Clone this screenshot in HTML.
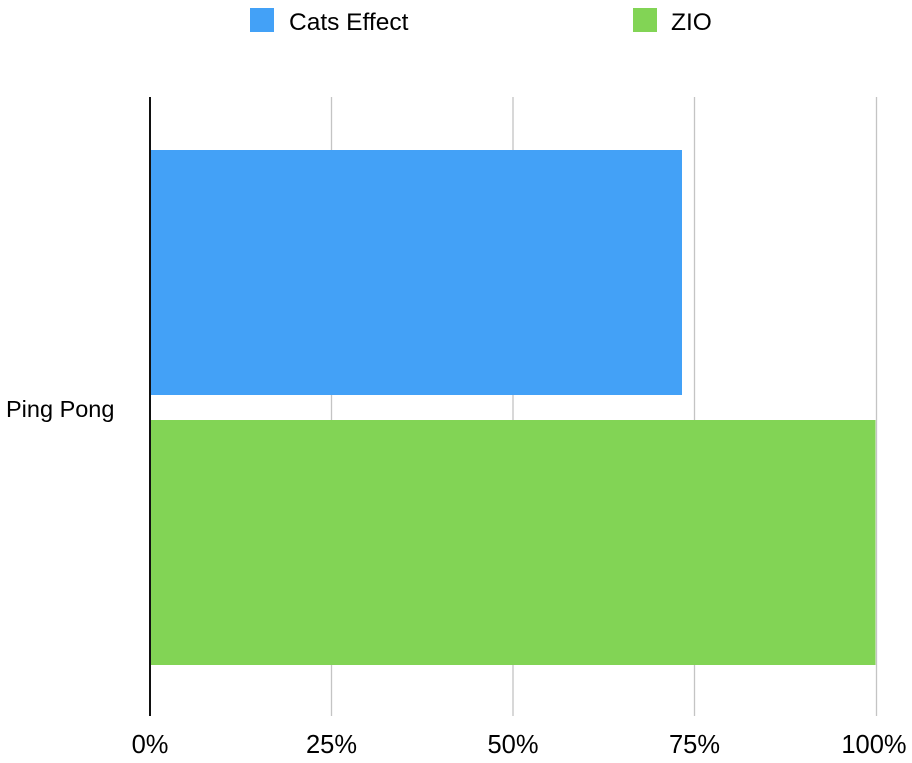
<!DOCTYPE html>
<html><head><style>body{margin:0;background:#fff}</style></head><body>
<svg width="912" height="758" xmlns="http://www.w3.org/2000/svg" font-family="Liberation Sans, sans-serif">
<rect width="912" height="758" fill="#fff"/>
<rect x="250" y="8" width="24" height="24" fill="#43a1f7"/>
<text x="289" y="30" font-size="24.5" fill="#000">Cats Effect</text>
<rect x="633" y="8" width="24" height="24" fill="#82d455"/>
<text x="671" y="30" font-size="24.5" fill="#000">ZIO</text>
<g stroke="#c4c4c4" stroke-width="1.3">
<line x1="331.5" y1="97" x2="331.5" y2="716"/>
<line x1="513" y1="97" x2="513" y2="716"/>
<line x1="694.5" y1="97" x2="694.5" y2="716"/>
<line x1="876.5" y1="97" x2="876.5" y2="716"/>
</g>
<rect x="150" y="150" width="532" height="245" fill="#43a1f7"/>
<rect x="150" y="420" width="725.5" height="245" fill="#82d455"/>
<line x1="150" y1="97" x2="150" y2="716" stroke="#111" stroke-width="2"/>
<text x="6" y="417" font-size="23.5" fill="#000">Ping Pong</text>
<g font-size="25.5" fill="#000" text-anchor="middle">
<text x="150" y="753">0%</text>
<text x="331.5" y="753">25%</text>
<text x="513" y="753">50%</text>
<text x="694.5" y="753">75%</text>
<text x="874" y="753">100%</text>
</g>
</svg>
</body></html>
